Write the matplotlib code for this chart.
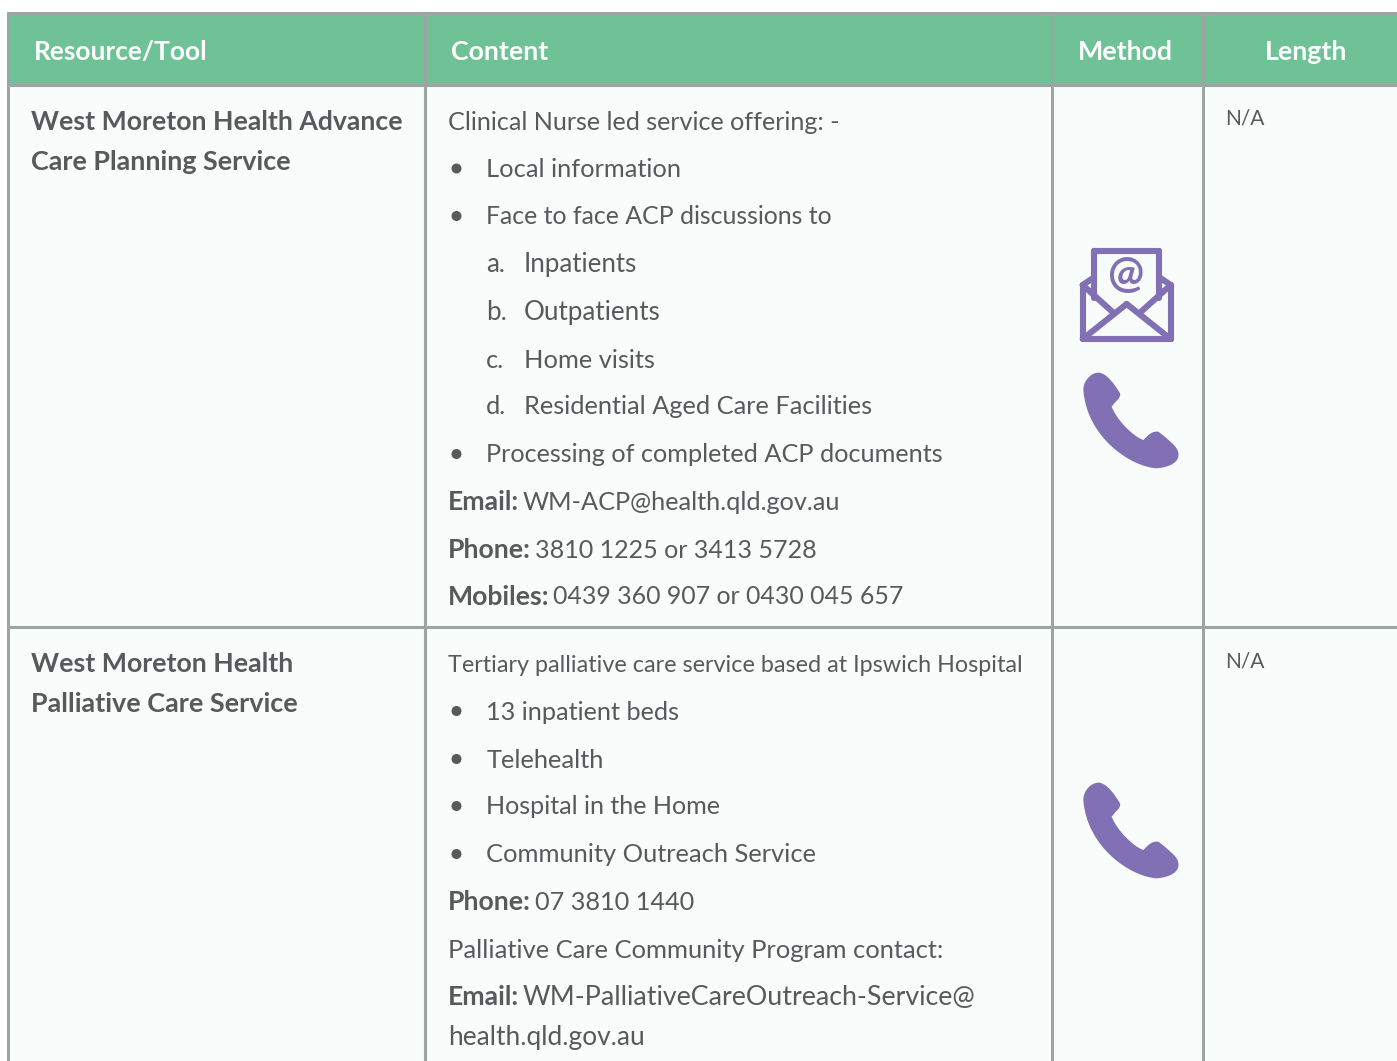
import matplotlib
matplotlib.use("Agg")
import matplotlib.pyplot as plt
from matplotlib.patches import Rectangle, PathPatch, Circle
from matplotlib.path import Path

W, H = 1397, 1061
GREEN = "#6fc296"; BG = "#f8fcfb"; GRID = "#9ea3a4"; TXT = "#58595b"; PURPLE = "#8170b3"

headers = ["Resource/Tool", "Content", "Method", "Length"]
header_x = [33.4, 450.6, 1077.6, 1264.6]
header_sizes = [18.9, 19.3, 19.3, 19.3]
col_lines = [7.8, 424.8, 1051.8, 1202.8]
row_lines = [13, 84.8, 627.3]

row_titles = [("West Moreton Health Advance", 120, 19.15), ("Care Planning Service", 160, 19.4),
              ("West Moreton Health", 662, 19.25), ("Palliative Care Service", 702, 19.45)]
na_rows = [116.6, 660]

# (kind, label, text, y, font size that fits the line)
content = [
    ("p", "", "Clinical Nurse led service offering: -", 120, 18.05),
    ("b", "", "Local information", 167.5, 18.26),
    ("b", "", "Face to face ACP discussions to", 215, 17.95),
    ("l", "a.", "Inpatients", 262, 18.6),
    ("l", "b.", "Outpatients", 310, 18.75),
    ("l", "c.", "Home visits", 358, 18.3),
    ("l", "d.", "Residential Aged Care Facilities", 405, 18.3),
    ("b", "", "Processing of completed ACP documents", 453, 18.15),
    ("k", "Email:", "WM-ACP@health.qld.gov.au", 500, 18.15),
    ("k", "Phone:", "3810 1225 or 3413 5728", 548, 18.1),
    ("k", "Mobiles:", "0439 360 907 or 0430 045 657", 595, 17.9),
    ("p", "", "Tertiary palliative care service based at Ipswich Hospital", 663, 16.82),
    ("b", "", "13 inpatient beds", 710, 18.15),
    ("b", "", "Telehealth", 758, 18.35),
    ("b", "", "Hospital in the Home", 805, 18.05),
    ("b", "", "Community Outreach Service", 853, 18.35),
    ("k", "Phone:", "07 3810 1440", 900, 18.2),
    ("p", "", "Palliative Care Community Program contact:", 948, 18.35),
    ("k", "Email:", "WM-PalliativeCareOutreach-Service@", 995, 19.3),
    ("p", "", "health.qld.gov.au", 1035, 18.9),
]
phone_offsets_y = [0, 410]

fig = plt.figure(figsize=(W / 100, H / 100), dpi=100, facecolor="white")
ax = fig.add_axes([0, 0, 1, 1])
ax.set_xlim(0, W); ax.set_ylim(H, 0); ax.axis("off")

ax.add_patch(Rectangle((col_lines[0], row_lines[0]), W, H, fc=BG, ec="none"))
ax.add_patch(Rectangle((col_lines[0], row_lines[0]), W, row_lines[1] - row_lines[0], fc=GREEN, ec="none"))
for y in row_lines:
    ax.plot([6.8, W], [y, y], color=GRID, lw=2.2, solid_capstyle="butt")
for x in col_lines:
    ax.plot([x, x], [12, H], color=GRID, lw=2.2, solid_capstyle="butt")

for h, x, fs in zip(headers, header_x, header_sizes):
    ax.text(x, 50, h, color="white", fontsize=fs, family="Lato", weight="bold", va="center_baseline")
for t, y, fs in row_titles:
    ax.text(30.7, y, t, color=TXT, fontsize=fs, family="Lato", weight="bold", va="center_baseline")
for y in na_rows:
    ax.text(1225.3, y, "N/A", color=TXT, fontsize=15, family="Lato", va="center_baseline")

fig.canvas.draw()
rend = fig.canvas.get_renderer()
for kind, lab, s, y, fs in content:
    kw = dict(color=TXT, fontsize=fs, family="Lato", va="center_baseline")
    if kind == "p":
        ax.text(448.3, y, s, **kw)
    elif kind == "b":
        ax.add_patch(Circle((456.5, y + 1), 5, fc=TXT, ec="none"))
        ax.text(486.3, y, s, **kw)
    elif kind == "l":
        ax.text(486.3, y, lab, **kw)
        ax.text(524, y, s, **kw)
    else:
        t = ax.text(448.3, y, lab, weight="bold", **{**kw, "fontsize": 19.2})
        x1 = t.get_window_extent(rend).x1
        ax.text(x1 + 3.5, y, s, **kw)

# phone icon
V = [(145, 428), (170, 428), (195, 465), (210, 490), (214, 505), (195, 515), (185, 530),
     (200, 570), (250, 620), (280, 630), (295, 615), (305, 603), (325, 605),
     (350, 625), (385, 650), (385, 670), (390, 695), (360, 712), (320, 715),
     (240, 710), (110, 620), (100, 480), (100, 450), (125, 428), (145, 428)]
C = [Path.MOVETO] + [Path.CURVE4] * 24
for dy in phone_offsets_y:
    pts = [(1050 + a / 3, 230 + b / 3 + dy) for a, b in V]
    ax.add_patch(PathPatch(Path(pts, C), fc=PURPLE, ec="none"))

# envelope icon (zoom coordinates converted to pixels)
def seg(a, b, lw=4.4):
    xs = [1050 + p[0] / 3 for p in (a, b)]
    ys = [230 + p[1] / 3 for p in (a, b)]
    ax.plot(xs, ys, color=PURPLE, lw=lw, solid_capstyle="round", solid_joinstyle="round")
env = [((132, 62), (328, 62)), ((132, 62), (132, 205)), ((328, 62), (328, 205)),
       ((98, 165), (98, 327)), ((362, 165), (362, 327)), ((98, 327), (362, 327)),
       ((98, 165), (132, 142)), ((362, 165), (328, 142)),
       ((98, 165), (190, 248)), ((362, 165), (270, 248)),
       ((98, 327), (230, 222)), ((362, 327), (230, 222))]
for a, b in env:
    seg(a, b)
ax.text(1126, 275, "@", color=PURPLE, fontsize=31, family="Lato", weight="bold", ha="center", va="center")

fig.savefig("out.png", dpi=100)
